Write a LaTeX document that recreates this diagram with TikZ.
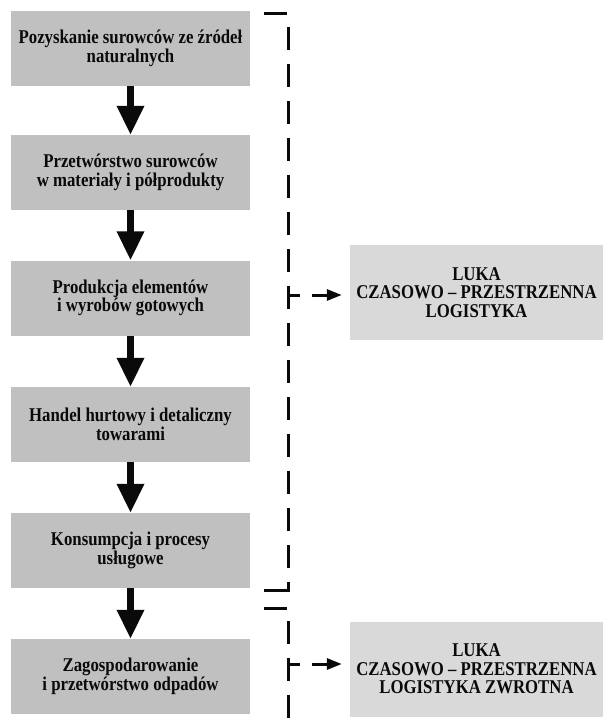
\documentclass[tikz,border=0pt]{standalone}
\usepackage{fontspec}
\setmainfont[FakeStretch=0.86]{Liberation Serif}
\usetikzlibrary{arrows.meta}
\definecolor{stagegray}{RGB}{192,192,192}
\definecolor{gapgray}{RGB}{217,217,217}
\definecolor{inkblack}{RGB}{10,10,10}
\begin{document}
\begin{tikzpicture}[x=1pt,y=-1pt,
  txt/.style={text=inkblack, align=center, inner sep=0pt,
    font=\bfseries\fontsize{19.5}{18.5}\selectfont},
  stage/.style={txt, fill=stagegray, minimum width=239pt, minimum height=75pt},
  gapbox/.style={txt, fill=gapgray, minimum width=253pt, minimum height=95pt},
  flow/.style={draw=inkblack, line width=6.5pt, -{Triangle[length=29pt,width=26pt]}},
  bracket/.style={draw=inkblack, line width=3pt, dash pattern=on 23pt off 14pt},
  solidline/.style={draw=inkblack, line width=3pt, line join=miter},
  link/.style={draw=inkblack, line width=3pt, -{Triangle[length=15pt,width=11pt]}, shorten >=8pt}]
\useasboundingbox (0,0) rectangle (603,719);
\fill[white] (0,0) rectangle (603,719);

\node[stage] (b1) at (130.5,48.5) {Pozyskanie surowców ze źródeł\\naturalnych};
\node[stage] (b2) at (130.5,172.5) {Przetwórstwo surowców\\w materiały i półprodukty};
\node[stage] (b3) at (130.5,298) {Produkcja elementów\\i wyrobów gotowych};
\node[stage] (b4) at (130.5,424.5) {Handel hurtowy i detaliczny\\towarami};
\node[stage] (b5) at (130.5,550.5) {Konsumpcja i procesy\\usługowe};
\node[stage] (b6) at (130.5,676.5) {Zagospodarowanie\\i przetwórstwo odpadów};

\node[gapbox] (r1) at (476.5,292.5) {LUKA\\CZASOWO -- PRZESTRZENNA\\LOGISTYKA};
\node[gapbox] (r2) at (476.5,669) {LUKA\\CZASOWO -- PRZESTRZENNA\\LOGISTYKA ZWROTNA};

\draw[flow] (b1.south) -- (b2.north);
\draw[flow] (b2.south) -- (b3.north);
\draw[flow] (b3.south) -- (b4.north);
\draw[flow] (b4.south) -- (b5.north);
\draw[flow] (b5.south) -- (b6.north);

% first bracket
\draw[bracket] (264,14) -- (288,14) -- (288,590);
\draw[solidline] (288,582) -- (288,590) -- (264,590);
% second bracket
\draw[bracket] (264,608) -- (288,608) -- (288,719);

% tees and links
\coordinate (t1a) at (288,295);
\coordinate (t1b) at (300,295);
\coordinate (s1) at (312,295);
\draw[solidline] (t1a) -- (t1b);
\draw[link] (s1) -- (s1 -| r1.west);

\coordinate (t2a) at (288,664);
\coordinate (t2b) at (300,664);
\coordinate (s2) at (312,664);
\draw[solidline] (t2a) -- (t2b);
\draw[link] (s2) -- (s2 -| r2.west);
\end{tikzpicture}
\end{document}
